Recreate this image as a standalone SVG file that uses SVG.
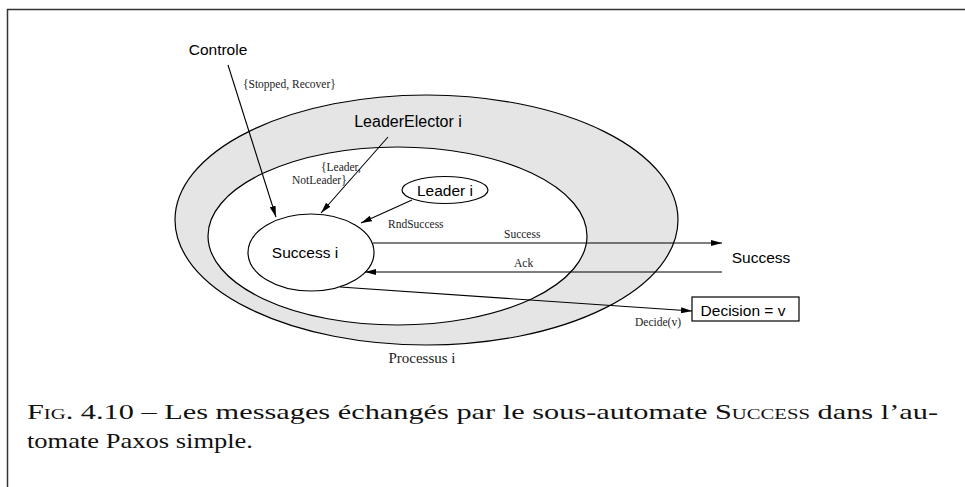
<svg xmlns="http://www.w3.org/2000/svg" width="965" height="487" viewBox="0 0 965 487">
  <style>
    .frame { fill: none; stroke: #333; stroke-width: 1.5; }
    .shape { stroke: #000; stroke-width: 1.2; }
    .edge { fill: none; stroke: #000; stroke-width: 1.1; marker-end: url(#head); }
    .sans { font-family: "Liberation Sans", Arial, sans-serif; font-size: 15.5px; fill: #000; }
    .lbl { font-family: "Liberation Serif", "Times New Roman", serif; font-size: 11.5px; fill: #222; }
    .cap { font-family: "Liberation Serif", "Times New Roman", serif; font-size: 22px; fill: #111; }
  </style>
  <defs>
    <marker id="head" viewBox="0 0 11 6" refX="11" refY="3" markerWidth="11" markerHeight="6" markerUnits="userSpaceOnUse" orient="auto">
      <path d="M0,0 L11,3 L0,6 Z" fill="#000"/>
    </marker>
  </defs>

  <!-- page frame -->
  <path class="frame" d="M7.5,487 V9.5 H965"/>

  <!-- process boundary and sub-automaton region -->
  <g id="processus">
    <ellipse class="shape" cx="426.5" cy="220" rx="251.5" ry="125" fill="#e5e5e5"/>
    <text class="lbl" x="422" y="363" text-anchor="middle" style="font-size:15px">Processus i</text>
  </g>
  <g id="inner">
    <ellipse class="shape" cx="397.5" cy="236" rx="189.5" ry="89" fill="#fff"/>
  </g>

  <g id="leader">
    <ellipse class="shape" cx="445" cy="190" rx="43" ry="13.5" fill="#fff"/>
    <text class="sans" x="445" y="196" text-anchor="middle">Leader i</text>
  </g>
  <g id="success-i">
    <ellipse class="shape" cx="311" cy="252.5" rx="63" ry="38.5" fill="#fff"/>
    <text class="sans" x="305" y="258" text-anchor="middle">Success i</text>
  </g>
  <g id="controle">
    <text class="sans" x="218" y="55" text-anchor="middle">Controle</text>
  </g>
  <g id="leader-elector">
    <text class="sans" x="408" y="127" text-anchor="middle" style="font-size:16px">LeaderElector i</text>
  </g>
  <g id="success-ext">
    <text class="sans" x="761" y="263" text-anchor="middle">Success</text>
  </g>
  <g id="decision">
    <rect class="shape" x="692" y="297" width="107" height="24" fill="#fff"/>
    <text class="sans" x="743" y="316" text-anchor="middle">Decision = v</text>
  </g>

  <!-- message connectors -->
  <g id="connectors">
    <line class="edge" x1="228" y1="65" x2="276" y2="217"/>
    <line class="edge" x1="388" y1="137" x2="321" y2="213"/>
    <line class="edge" x1="412" y1="200" x2="361" y2="223"/>
    <line class="edge" x1="373" y1="243" x2="722" y2="243"/>
    <line class="edge" x1="722" y1="272" x2="365" y2="272"/>
    <line class="edge" x1="340" y1="287" x2="692" y2="311"/>
  </g>

  <!-- message labels -->
  <g id="labels">
    <text class="lbl" x="243" y="88">{Stopped, Recover}</text>
    <text class="lbl" x="321" y="171">{Leader,</text>
    <text class="lbl" x="292" y="184">NotLeader}</text>
    <text class="lbl" x="388" y="228">RndSuccess</text>
    <text class="lbl" x="504" y="238">Success</text>
    <text class="lbl" x="514" y="267">Ack</text>
    <text class="lbl" x="635" y="326">Decide(v)</text>
  </g>

  <!-- caption -->
  <text class="cap" x="27" y="419" textLength="911" lengthAdjust="spacingAndGlyphs"><tspan font-variant="small-caps">Fig.</tspan> 4.10 – Les messages échangés par le sous-automate <tspan font-variant="small-caps">Success</tspan> dans l’au-</text>
  <text class="cap" x="27" y="448" textLength="226" lengthAdjust="spacingAndGlyphs">tomate Paxos simple.</text>
</svg>
